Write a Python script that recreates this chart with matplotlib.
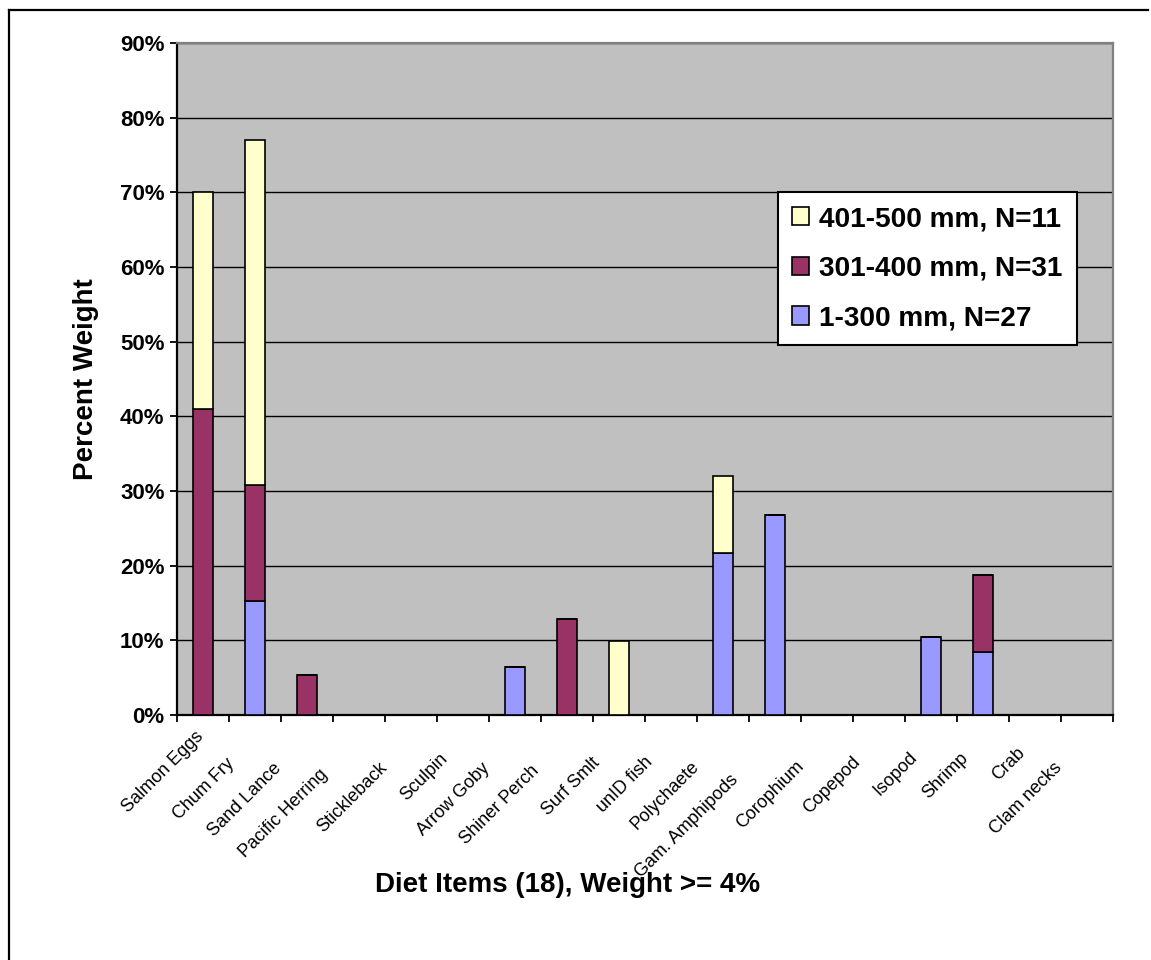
import matplotlib
matplotlib.use('Agg')
import matplotlib.pyplot as plt
import matplotlib.transforms as mtransforms
from matplotlib.lines import Line2D
from matplotlib.ticker import FixedLocator, FuncFormatter
import numpy as np

# diet items and percent weight by fork-length class
items = ['Salmon Eggs', 'Chum Fry', 'Sand Lance', 'Pacific Herring', 'Stickleback',
         'Sculpin', 'Arrow Goby', 'Shiner Perch', 'Surf Smlt', 'unID fish',
         'Polychaete', 'Gam. Amphipods', 'Corophium', 'Copepod', 'Isopod',
         'Shrimp', 'Crab', 'Clam necks']
w_1_300 = [0, 15.3, 0, 0, 0, 0, 6.4, 0, 0, 0, 21.7, 26.8, 0, 0, 10.5, 8.4, 0, 0]
w_301_400 = [41.0, 15.5, 5.3, 0, 0, 0, 0, 12.9, 0, 0, 0, 0, 0, 0, 0, 10.4, 0, 0]
w_401_500 = [29.0, 46.2, 0, 0, 0, 0, 0, 0, 9.9, 0, 10.3, 0, 0, 0, 0, 0, 0, 0]
labels = ['1-300 mm, N=27', '301-400 mm, N=31', '401-500 mm, N=11']
colors = ['#9999FF', '#993366', '#FFFFCC']
yticks = list(range(0, 100, 10))

plt.rcParams['font.family'] = ['Liberation Sans', 'DejaVu Sans']

fig = plt.figure(figsize=(11.51, 9.6), dpi=100)
ax = fig.add_axes([177/1151, 1-715/960, 936/1151, 672/960])
ax.set_facecolor('#C0C0C0')

x = np.arange(len(items))
bottom = np.zeros(len(items))
bars = []
for vals, lab, col in zip([w_1_300, w_301_400, w_401_500], labels, colors):
    vals = np.array(vals, dtype=float)
    b = ax.bar(x, vals, width=0.4, bottom=bottom, color=col, edgecolor='black',
               linewidth=1.2, label=lab, zorder=3)
    bars.append(b)
    bottom += vals

ax.set_xlim(-0.5, len(items) - 0.5)
ax.set_ylim(0, 90)
ax.set_yticks(yticks)
ax.yaxis.set_major_formatter(FuncFormatter(lambda v, p: '%d%%' % v))
for t in ax.get_yticklabels():
    t.set_fontweight('bold')
    t.set_fontsize(16)
ax.tick_params(axis='y', direction='out', length=5, width=1.3, pad=4, colors='black')
ax.yaxis.grid(True, color='black', linewidth=1.0, zorder=1)
ax.set_axisbelow(True)

# tick marks sit on the category boundaries; labels are drawn separately
ax.set_xticks([])
ax.xaxis.set_minor_locator(FixedLocator(np.arange(len(items) + 1) - 0.5))
ax.tick_params(axis='x', which='minor', direction='out', length=5, width=1.3)

for side in ['left', 'bottom']:
    ax.spines[side].set_color('black')
    ax.spines[side].set_linewidth(1.6)
for side in ['top', 'right']:
    ax.spines[side].set_color('#808080')
    ax.spines[side].set_linewidth(1.6)

# slanted category labels, nudged down-left in proportion to their length
# (the first one stays put so it clears the left edge)
renderer = fig.canvas.get_renderer()
tick_font = dict(family=['Liberation Sans Narrow', 'Liberation Sans', 'DejaVu Sans'], size=13)
base = mtransforms.blended_transform_factory(ax.transData, ax.transAxes)
for i, (xi, name) in enumerate(zip(x, items)):
    t = ax.text(xi, 0, name, rotation=45, rotation_mode='anchor', ha='right', va='top',
                transform=base, **tick_font)
    w, h, d = renderer.get_text_width_height_descent(name, t.get_fontproperties(), ismath=False)
    k = 0.0 if i == 0 else 0.27
    dx = -(8 + k * w)
    dy = -(13 + k * w) if i == 0 else -(19 + k * w)
    t.set_transform(base + mtransforms.ScaledTranslation(dx / fig.dpi, dy / fig.dpi,
                                                         fig.dpi_scale_trans))

ax.set_ylabel('Percent Weight', fontsize=20, fontweight='bold', labelpad=15)
fig.text(568/1151, 1-885/960, 'Diet Items (18), Weight >= 4%', ha='center', va='center',
         fontsize=20, fontweight='bold')

handles = [bars[2], bars[1], bars[0]]
leg = ax.legend(handles, [labels[2], labels[1], labels[0]], loc='upper left',
                bbox_to_anchor=(0.642, 0.778), fontsize=20.2, frameon=True, fancybox=False,
                shadow=False, framealpha=1, edgecolor='black', handlelength=0.62,
                handleheight=0.62, handletextpad=0.35, labelspacing=0.84, borderpad=0.5,
                borderaxespad=0)
leg.get_frame().set_linewidth(1.5)
for t in leg.get_texts():
    t.set_fontweight('bold')

# chart area border
fig.add_artist(Line2D([9/1151, 9/1151], [0, 1-10/960], color='black', linewidth=1.6,
                      transform=fig.transFigure))
fig.add_artist(Line2D([9/1151, 1148/1151], [1-10/960, 1-10/960], color='black', linewidth=1.6,
                      transform=fig.transFigure))

fig.savefig('out.png', dpi=100, facecolor='white')
